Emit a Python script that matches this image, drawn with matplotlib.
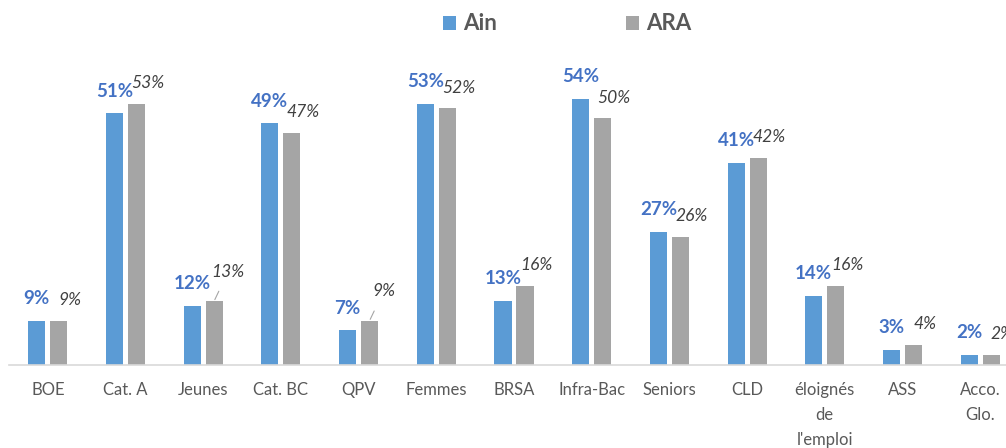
import matplotlib.pyplot as plt
import numpy as np

plt.rcParams['font.family'] = ['Lato', 'DejaVu Sans']

categories = ["BOE", "Cat. A", "Jeunes", "Cat. BC", "QPV", "Femmes", "BRSA",
              "Infra-Bac", "Seniors", "CLD", "éloignés\nde\nl'emploi", "ASS",
              "Acco.\nGlo."]
ain = [9, 51, 12, 49, 7, 53, 13, 54, 27, 41, 14, 3, 2]
ara = [9, 53, 13, 47, 9, 52, 16, 50, 26, 42, 16, 4, 2]
leaders = ["Jeunes", "QPV"]  # ARA labels pulled away with a leader line

blue = "#5B9BD5"
grey = "#A5A5A5"

fig = plt.figure(figsize=(10.06, 4.48), dpi=100)
ax = fig.add_axes([9 / 1006, 83 / 448, 1010 / 1006, 296 / 448])

x = np.arange(len(categories))
w = 0.22
off = 0.1416
ax.bar(x - off, ain, w, color=blue, label="Ain")
ax.bar(x + off, ara, w, color=grey, label="ARA")

for i, cat in enumerate(categories):
    ax.annotate(f"{ain[i]}%", (x[i] - off, ain[i]), xytext=(0, 16),
                textcoords="offset points", ha="center", va="center",
                fontsize=13.5, fontweight="bold", color="#4472C4")
    if cat in leaders:
        ax.annotate(f"{ara[i]}%", (x[i] + off, ara[i]), xytext=(10, 21),
                    textcoords="offset points", ha="center", va="center",
                    fontsize=12.5, fontstyle="italic", color="#404040",
                    arrowprops=dict(arrowstyle="-", color="#A5A5A5", lw=0.8,
                                    shrinkA=7, shrinkB=1))
    else:
        ax.annotate(f"{ara[i]}%", (x[i] + off, ara[i]), xytext=(8, 15),
                    textcoords="offset points", ha="center", va="center",
                    fontsize=12.5, fontstyle="italic", color="#404040")

ax.set_xlim(-0.5, len(categories) - 0.5)
ax.set_ylim(0, 60)
ax.set_yticks([])
ax.set_xticks(x)
ax.set_xticklabels(categories, fontsize=12, color="#595959", linespacing=1.7)
ax.tick_params(axis="x", length=0, pad=12)
for s in ["top", "right", "left"]:
    ax.spines[s].set_visible(False)
ax.spines["bottom"].set_color("#D9D9D9")
ax.spines["bottom"].set_linewidth(1.2)

leg = fig.legend(loc="center", bbox_to_anchor=(567 / 1006, 1 - 24 / 448), ncol=2,
                 frameon=False, prop=dict(size=16, weight="bold"),
                 handlelength=0.6, handleheight=0.6, handletextpad=0.3,
                 columnspacing=5.8)
for t in leg.get_texts():
    t.set_color("#595959")

fig.savefig("out.png", dpi=100)
